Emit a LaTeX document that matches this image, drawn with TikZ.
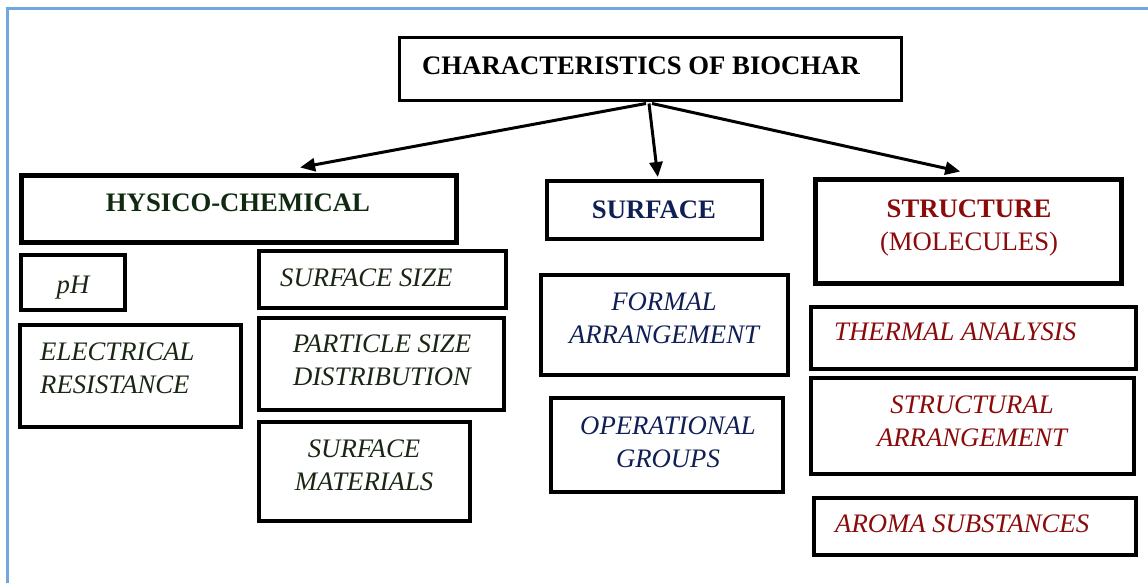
\documentclass[tikz,border=0pt]{standalone}
\usepackage{fontspec}
\setmainfont{Liberation Serif}
\usetikzlibrary{arrows.meta,calc}
\definecolor{bordblue}{HTML}{6FA8DC}
\definecolor{hgreen}{HTML}{0F2A10}
\definecolor{lgreen}{HTML}{1A2614}
\definecolor{snavy}{HTML}{0F1F55}
\definecolor{sred}{HTML}{8B0A0A}
\tikzset{
  bx/.style={draw=black, line width=3.5pt, rectangle, inner sep=0pt},
  bxthick/.style={bx, line width=5pt},
  lbl/.style={inner sep=0pt, font=\fontsize{26.7}{32.5}\selectfont},
  lblb/.style={lbl, font=\fontsize{26.7}{32.5}\selectfont\bfseries},
  lbli/.style={lbl, font=\fontsize{26.7}{32.5}\selectfont\itshape},
  arr/.style={line width=3pt, -{Triangle[length=15pt,width=13pt]}}
}
\newcommand{\bxat}[6]{% name, style, x1, y1, x2, y2
  \node[#2, minimum width={#5-#3}, minimum height={#6-#4}] (#1) at ({(#3+#5)/2},{(#4+#6)/2}) {};}
\begin{document}
\begin{tikzpicture}[x=1pt,y=-1pt]
\useasboundingbox (0,0) rectangle (1148,583);
\fill[white] (0,0) rectangle (1148,583);
% outer frame
\draw[bordblue, line width=2.5pt] (7.5,590) -- (7.5,8.5) -- (1155,8.5);

% boxes
\bxat{title}{bx, line width=3pt}{399}{38}{901}{101}
\bxat{hys}{bxthick}{21}{175}{456}{242}
\bxat{surf}{bx, line width=4pt}{547}{181}{762}{239}
\bxat{struc}{bxthick}{815}{179}{1121}{283}
\bxat{ph}{bx}{21}{255}{125}{310}
\bxat{elec}{bx}{20}{325}{241}{427}
\bxat{ssize}{bx}{259}{251}{506}{308}
\bxat{psd}{bx}{259}{318}{504}{410}
\bxat{smat}{bx}{259}{422}{470}{521}
\bxat{formal}{bx}{541}{275}{788}{375}
\bxat{oper}{bx}{551}{398}{783}{492}
\bxat{therm}{bx}{811}{307}{1136}{369}
\bxat{strar}{bx}{811}{378}{1134}{474}
\bxat{aroma}{bx}{814}{498}{1136}{555}

% texts (two-line nodes: y is the baseline of the second line)
\node[lblb, anchor=base, text=black] (t-title) at (641,75) {CHARACTERISTICS OF BIOCHAR};
\node[lblb, anchor=base, text=hgreen] (t-hys) at (238,211) {HYSICO-CHEMICAL};
\node[lblb, anchor=base, text=snavy] (t-surf) at (654,218) {SURFACE};
\node[lbl, anchor=base, text=sred, align=center] (t-struc) at (969,250) {\textbf{STRUCTURE}\\(MOLECULES)};

\node[lbli, anchor=base, text=lgreen] (t-ph) at (73,293) {pH};
\node[lbli, anchor=base west, text=lgreen, align=left] (t-elec) at (40,393) {ELECTRICAL\\RESISTANCE};
\node[lbli, anchor=base west, text=lgreen] (t-ssize) at (280,286) {SURFACE SIZE};
\node[lbli, anchor=base, text=lgreen, align=center] (t-psd) at (382,385) {PARTICLE SIZE\\DISTRIBUTION};
\node[lbli, anchor=base, text=lgreen, align=center] (t-smat) at (364,490) {SURFACE\\MATERIALS};

\node[lbli, anchor=base, text=snavy, align=center] (t-formal) at (664,343) {FORMAL\\ARRANGEMENT};
\node[lbli, anchor=base, text=snavy, align=center] (t-oper) at (668,467) {OPERATIONAL\\GROUPS};

\node[lbli, anchor=base west, text=sred] (t-therm) at (834,340) {THERMAL ANALYSIS};
\node[lbli, anchor=base, text=sred, align=center] (t-strar) at (972,446) {STRUCTURAL\\ARRANGEMENT};
\node[lbli, anchor=base west, text=sred] (t-aroma) at (835,532) {AROMA SUBSTANCES};

% arrows
\coordinate (o1) at ($(title.south)+(-4,1)$);
\coordinate (o2) at ($(title.south)+(-1,1)$);
\coordinate (o3) at ($(title.south)+(2,1)$);
\draw[arr] (o1) -- ($(hys.north west)!0.64!(hys.north east)+(0,-5)$);
\draw[arr] (o2) -- ($(surf.north west)!0.515!(surf.north east)+(0,-2)$);
\draw[arr] (o3) -- ($(struc.north west)!0.475!(struc.north east)+(0,-5)$);
\end{tikzpicture}
\end{document}
